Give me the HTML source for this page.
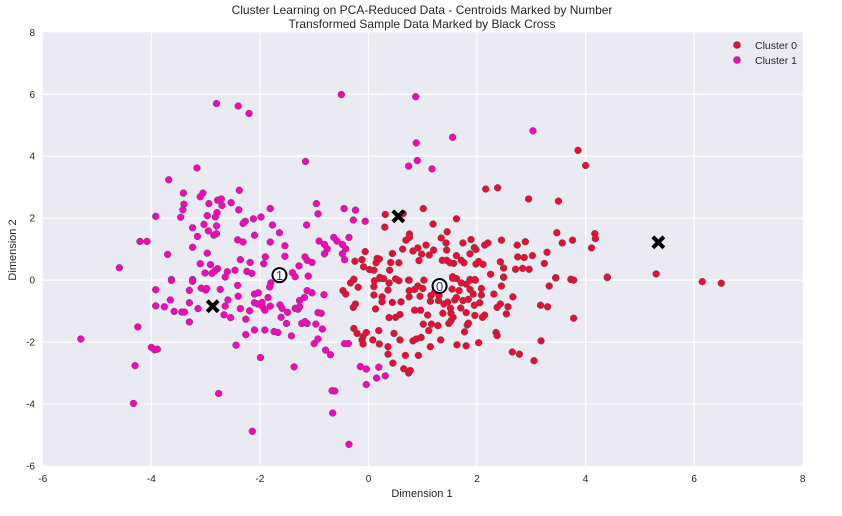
<!DOCTYPE html>
<html><head><meta charset="utf-8"><style>
body{margin:0;background:#fff;width:842px;height:511px;overflow:hidden;font-family:"Liberation Sans",sans-serif}
svg text{font-family:"Liberation Sans",sans-serif;fill:#262626}
</style></head><body>
<svg id="chart" width="842" height="511" xmlns="http://www.w3.org/2000/svg">
<text x="422" y="14" text-anchor="middle" font-size="12">Cluster Learning on PCA-Reduced Data - Centroids Marked by Number</text>
<text x="422" y="28" text-anchor="middle" font-size="12">Transformed Sample Data Marked by Black Cross</text>
<rect x="42.8" y="32.3" width="759.9" height="433.7" fill="#eaeaf2"/>
<g id="grid"></g><g id="ticks"></g><g id="pts"></g><g id="marks"></g>
<text x="422" y="497" text-anchor="middle" font-size="11">Dimension 1</text>
<text transform="translate(16,250) rotate(-90)" text-anchor="middle" font-size="11">Dimension 2</text>
<g>
<g><circle cx="737" cy="45" r="3.5" fill="#ee0a30" stroke="#555" stroke-width="0.6"/><text x="755" y="49" font-size="10.5">Cluster 0</text></g>
<g><circle cx="737" cy="60" r="3.5" fill="#ff00c0" stroke="#555" stroke-width="0.6"/><text x="755" y="64" font-size="10.5">Cluster 1</text></g>
</g>
</svg>
<script>
const xTicks=[-6,-4,-2,0,2,4,6,8];
const yTicks=[-6,-4,-2,0,2,4,6,8];
const c0x=[3.86,4.0,2.16,2.38,2.95,3.5,0.31,0.3,0.64,1.01,1.62,1.19,0.755,0.755,0.69,1.45,1.34,1.43,1.74,1.89,1.95,1.98,2.14,2.2,2.45,2.74,2.89,3.47,3.57,3.76,4.17,4.18,4.11,3.29,3.02,2.87,2.75,3.24,2.96,2.84,2.71,2.49,2.43,2.11,1.98,2.03,1.87,1.76,1.71,1.62,1.57,1.5,1.44,1.44,1.36,1.2,1.12,1.06,0.98,0.91,0.82,0.93,0.63,0.56,0.41,0.44,0.39,0.16,0.2,0.14,0.1,0.02,-0.06,-0.12,-0.09,-0.25,-0.27,0.21,0.5,0.74,1.02,1.55,1.87,1.96,2.25,2.49,3.45,3.73,4.4,
-0.27,-0.33,-0.47,-0.42,-0.19,-0.24,-0.28,-0.27,-0.21,-0.1,-0.04,-0.12,-0.1,0.08,0.19,0.2,0.36,0.36,0.45,0.47,0.38,0.13,0.1,0.1,0.11,0.21,0.28,0.25,0.36,0.38,0.44,0.58,0.6,0.58,0.68,0.65,0.74,0.77,0.92,0.85,0.96,0.75,0.75,0.95,1.0,0.91,0.75,0.56,1.09,1.01,1.11,1.16,1.28,1.33,1.14,0.97,0.88,0.82,1.14,1.15,1.29,1.22,1.39,1.37,1.46,1.54,1.51,1.52,1.56,1.48,1.52,1.59,1.62,1.67,1.74,1.84,1.87,1.93,2.05,1.95,1.8,1.84,1.82,1.77,1.96,2.1,2.14,2.08,2.08,1.97,1.88,1.8,1.71,1.62,1.55,2.31,2.37,2.43,2.54,2.57,2.66,2.45,2.49,2.35,2.37,2.03,1.8,1.63,2.65,2.78,3.05,3.18,3.17,3.3,3.33,3.45,3.73,3.78,3.78,5.3,6.15,6.5,4.4,0.85,1.3,1.7,0.5,0.25];
const c0y=[4.19,3.7,2.94,2.98,2.62,2.55,2.12,1.71,2.15,2.31,1.98,1.81,1.49,1.38,1.29,1.56,1.36,1.2,1.2,1.31,1.05,0.99,1.13,1.2,1.29,1.13,1.24,1.53,1.2,1.29,1.5,1.34,1.04,0.9,0.79,0.73,0.75,0.54,0.35,0.38,0.35,0.39,0.59,0.51,0.52,0.6,0.85,0.56,0.64,0.79,0.54,0.56,0.97,0.64,0.64,0.97,0.81,1.13,0.84,1.04,0.94,0.63,1.0,0.56,0.57,0.86,0.32,0.7,0.68,0.56,0.32,0.34,0.92,0.66,0.43,0.61,0.02,0.05,0.04,0.0,0.0,0.06,0.02,0.02,0.19,0.1,0.07,0.02,0.08,
0.03,-0.09,-0.34,-0.45,-0.23,-0.77,-0.88,-1.56,-1.72,-1.82,-1.69,-1.93,-2.06,-1.93,-1.63,-2.06,-2.15,-2.39,-2.68,-1.72,-1.21,-0.93,-0.48,-0.21,-0.02,0.09,0.05,-0.54,-0.32,-0.09,-0.72,-1.11,-0.7,-1.93,-2.43,-2.86,-3.0,-2.92,-2.43,-0.97,-0.97,-0.54,-0.34,-0.52,-0.27,-0.19,0.0,-0.02,-1.13,-1.42,-1.63,-1.42,-1.47,-1.93,-2.15,-1.85,-1.9,-1.96,-0.68,-0.5,-0.66,-0.38,-0.77,-1.07,-0.71,-0.29,-0.91,-1.07,-1.2,-1.4,-1.31,-0.64,-0.56,-0.34,-0.66,-0.62,-0.3,-0.45,-0.73,-0.81,-1.05,-1.39,-1.45,-1.67,-1.14,-1.2,-1.13,-0.48,-0.27,0.0,0.0,-0.13,-0.09,0.05,0.11,-0.45,-0.88,-0.77,-1.09,-0.86,-0.54,-0.19,0.09,-1.69,-1.79,-2.02,-2.12,-2.09,-2.32,-2.39,-2.6,-1.96,-0.81,-0.86,-0.19,0.08,0.03,0.0,-1.23,0.2,-0.05,-0.1,0.1,-0.3,-0.5,-0.9,-1.2,-0.7];
const c1x=[-3.16,-3.68,-3.41,-3.05,-3.1,-2.38,-3.92,-3.4,-3.42,-3.46,-2.94,-2.78,-2.71,-2.7,-2.53,-2.39,-2.79,-2.82,-2.97,-3.03,-3.24,-2.8,-2.95,-3.15,-2.8,-2.85,-2.12,-2.27,-2.31,-1.98,-1.81,-1.77,-1.16,-0.96,-0.93,-1.14,-0.45,-0.28,-1.64,-2.1,-1.81,-1.54,-1.54,-2.41,-2.31,-3.24,-2.97,-3.7,-4.21,-4.08,-4.59,-3.1,-2.91,-2.36,-2.18,-1.9,-1.93,-2.78,-2.83,-2.88,-3.01,-2.6,-2.46,-2.24,-2.15,-2.64,-1.67,-1.4,-1.28,-1.17,-1.13,-1.04,-1.11,-1.35,-0.91,-0.81,-0.76,-0.81,-0.64,-3.63,-3.24,
-3.92,-3.63,-3.24,-3.92,-3.76,-3.65,-3.58,-3.44,-3.39,-3.3,-3.3,-3.14,-3.3,-3.08,-3.0,-2.98,-2.73,-2.59,-2.64,-2.66,-2.54,-2.41,-2.4,-2.36,-2.26,-2.19,-2.1,-2.03,-2.1,-2.04,-1.96,-1.95,-1.91,-1.85,-1.81,-1.8,-1.82,-2.1,-1.91,-1.74,-1.67,-1.61,-1.51,-1.49,-1.42,-1.63,-1.59,-1.35,-1.3,-1.27,-1.27,-1.18,-1.13,-1.04,-0.82,-0.93,-0.87,-0.85,-0.97,-1.13,-1.23,-1.17,-2.26,-2.44,-1.99,-1.37,-1.0,-0.93,-0.79,-0.7,-0.37,-0.62,-0.66,-0.36,-2.14,-2.76,-4.25,-5.3,-4.3,-4.33,-4.0,-3.94,-3.89,-0.15,-0.04,0.19,0.15,0.31,-0.04,-0.44,-0.67,
-0.5,0.87,0.88,1.55,3.03,0.74,0.9,1.17,-0.24,-0.06,-0.36,-0.58,-0.48,-0.42,-0.48,-0.44,-2.8,-2.4,-2.2];
const c1y=[3.62,3.24,2.81,2.81,2.69,2.9,2.06,2.45,2.27,2.03,2.47,2.58,2.62,2.41,2.5,2.27,2.18,2.04,2.08,1.8,1.69,1.75,1.59,1.41,1.5,1.45,1.98,1.9,1.83,2.04,2.31,1.78,3.83,2.47,2.14,1.78,2.31,1.94,1.53,1.45,1.23,1.11,0.77,1.3,1.23,1.06,0.87,0.83,1.25,1.25,0.4,0.53,0.5,0.66,0.57,0.75,0.53,0.37,0.3,0.22,0.23,0.27,0.32,0.28,0.22,0.1,0.22,0.24,0.46,0.75,0.64,0.57,0.13,0.11,1.26,1.15,1.01,0.85,1.38,0.02,0.02,
-0.31,-0.01,-0.04,-0.83,-0.86,-0.64,-1.01,-1.03,-1.03,-0.73,-0.33,-0.92,-1.35,-0.26,-0.32,-0.27,-0.3,-0.64,-0.84,-1.12,-1.21,-0.17,-0.52,-0.92,-1.26,-0.99,-0.45,-0.41,-0.73,-0.77,-0.72,-0.86,-0.97,-0.56,-0.84,-0.09,-0.22,-1.61,-1.61,-1.66,-1.69,-1.2,-1.4,-1.04,-1.8,-0.8,-0.91,-0.91,-0.94,-0.86,-0.66,-0.56,-0.34,-0.41,-0.47,-1.05,-1.07,-1.58,-1.42,-1.4,-1.4,-1.34,-1.76,-2.1,-2.5,-2.8,-2.05,-1.9,-2.26,-2.41,-2.05,-3.58,-4.29,-5.3,-4.88,-3.66,-1.51,-1.9,-2.76,-3.98,-2.17,-2.25,-2.23,-2.79,-2.87,-2.81,-3.16,-3.09,-3.37,-2.05,-3.57,
5.99,5.92,4.43,4.61,4.82,3.68,3.86,3.59,2.26,1.9,1.38,1.26,1.15,1.01,0.85,0.66,5.7,5.62,5.38];
const centroidX=[1.31,-1.64], centroidY=[-0.19,0.16], centroidLabels=["0","1"];
const sampleX=[-2.87,0.55,5.34], sampleY=[-0.84,2.06,1.22];
const L=42.8,R=802.7,T=32.3,B=466;
const X=v=>L+(v+6)*(R-L)/14, Y=v=>B-(v+6)*(B-T)/14;
const NS="http://www.w3.org/2000/svg";
function mk(tag,parent,attrs){const e=document.createElementNS(NS,tag);for(const k in attrs)e.setAttribute(k,attrs[k]);document.getElementById(parent).appendChild(e);return e;}
xTicks.forEach(t=>{
 if(t>-6&&t<8){const l=mk('line','grid',{x1:X(t),x2:X(t),y1:T,y2:B,stroke:'#fff','stroke-width':1.2});
 
 }
 const tx=mk('text','ticks',{x:X(t),y:482,'text-anchor':'middle','font-size':10});tx.textContent=t;
 
 
});
yTicks.forEach(t=>{
 if(t>-6&&t<8){const l=mk('line','grid',{x1:L,x2:R,y1:Y(t),y2:Y(t),stroke:'#fff','stroke-width':1.2});
 
 }
 const tx=mk('text','ticks',{x:35,y:Y(t)+3.5,'text-anchor':'end','font-size':10});tx.textContent=t;
 
 
});
c0x.forEach((v,i)=>{const c=mk('circle','pts',{cx:X(v),cy:Y(c0y[i]),r:3.4,fill:'#ee0a30',stroke:'#555','stroke-width':0.5});
 
 });
c1x.forEach((v,i)=>{const c=mk('circle','pts',{cx:X(v),cy:Y(c1y[i]),r:3.4,fill:'#ff00c0',stroke:'#555','stroke-width':0.5});
 
 });
centroidX.forEach((v,i)=>{
 const c=mk('circle','marks',{cx:X(v),cy:Y(centroidY[i]),r:7,fill:'#fff',stroke:'#000','stroke-width':2});
 
 
 const t=mk('text','marks',{x:X(v),y:Y(centroidY[i])+5,'text-anchor':'middle','font-size':13,'font-family':'Liberation Serif'});
 t.textContent=centroidLabels[i];t.style.fill='#2030b0';
 
 
});
sampleX.forEach((v,i)=>{
 const cx=X(v),cy=Y(sampleY[i]),d=5.5;
 const p=mk('path','marks',{d:`M${cx-d},${cy-d}L${cx+d},${cy+d}M${cx-d},${cy+d}L${cx+d},${cy-d}`,stroke:'#000','stroke-width':4});
 
 
});
</script>
</body></html>
